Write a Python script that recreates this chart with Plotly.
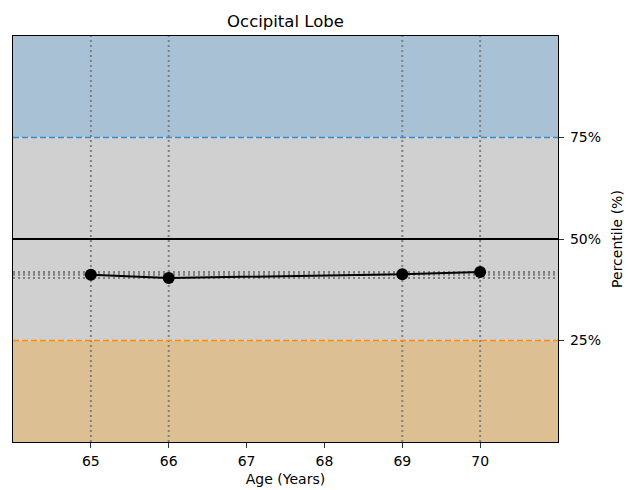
import plotly.graph_objects as go

ages = [65, 66, 69, 70]
percentiles = [41.2, 40.4, 41.3, 41.9]
x_ticks = [65, 66, 67, 68, 69, 70]
y_ticks = [25, 50, 75]
y_tick_labels = ["25%", "50%", "75%"]
title = "Occipital Lobe"

fig = go.Figure()

shapes = []
# bands
shapes.append(dict(type="rect", xref="x domain", yref="y", x0=0, x1=1, y0=75, y1=100,
                   fillcolor="#a9c1d5", line_width=0, layer="below"))
shapes.append(dict(type="rect", xref="x domain", yref="y", x0=0, x1=1, y0=25, y1=75,
                   fillcolor="#d0d0d0", line_width=0, layer="below"))
shapes.append(dict(type="rect", xref="x domain", yref="y", x0=0, x1=1, y0=0, y1=25,
                   fillcolor="#dcc094", line_width=0, layer="below"))
# reference lines
shapes.append(dict(type="line", xref="x domain", yref="y", x0=0, x1=1, y0=75, y1=75,
                   line=dict(color="#3a8cd0", width=1.6, dash="6px,3px")))
shapes.append(dict(type="line", xref="x domain", yref="y", x0=0, x1=1, y0=25, y1=25,
                   line=dict(color="#ff8a00", width=1.6, dash="6px,3px")))
shapes.append(dict(type="line", xref="x domain", yref="y", x0=0, x1=1, y0=50, y1=50,
                   line=dict(color="black", width=2)))
# dotted guides at each observation
for a, p in zip(ages, percentiles):
    shapes.append(dict(type="line", xref="x", yref="y domain", x0=a, x1=a, y0=0, y1=1,
                       line=dict(color="#808080", width=2, dash="2px,3px"), layer="below"))
    shapes.append(dict(type="line", xref="x domain", yref="y", x0=0, x1=1, y0=p, y1=p,
                       line=dict(color="#808080", width=2, dash="2px,3px"), layer="below"))

fig.add_trace(go.Scatter(x=ages, y=percentiles, mode="lines+markers",
                         line=dict(color="black", width=2),
                         marker=dict(color="black", size=12),
                         showlegend=False, hoverinfo="skip"))

axis_font = dict(family="DejaVu Sans", size=14, color="black")

fig.update_layout(
    width=633, height=490,
    margin=dict(l=13, r=75, t=36, b=48, autoexpand=False),
    paper_bgcolor="white", plot_bgcolor="white",
    font=dict(family="DejaVu Sans", size=14, color="black"),
    title=dict(text=title, x=0.5, xref="paper", xanchor="center", y=1 - 21/490,
               yanchor="middle", font=dict(family="DejaVu Sans", size=16.5, color="black")),
    shapes=shapes,
    xaxis=dict(range=[64, 71], tickvals=x_ticks, showgrid=False, zeroline=False,
               ticks="outside", ticklen=5, tickcolor="#333333", showline=True,
               linecolor="black", linewidth=1.2, mirror=True, automargin=False,
               tickfont=axis_font, ticklabelstandoff=1,
               title=dict(text="Age (Years)", standoff=6, font=axis_font)),
    yaxis=dict(range=[0, 100], tickvals=y_ticks, ticktext=y_tick_labels, side="right",
               showgrid=False, zeroline=False, ticks="outside", ticklen=5, tickcolor="#333333",
               showline=True, linecolor="black", linewidth=1.2, mirror=True, automargin=False,
               tickfont=axis_font, ticklabelstandoff=3,
               title=dict(text="Percentile (%)", standoff=12, font=axis_font)),
)

fig.write_html("out.html", config={"displayModeBar": False},
               post_script="document.body.style.margin='0px';")
